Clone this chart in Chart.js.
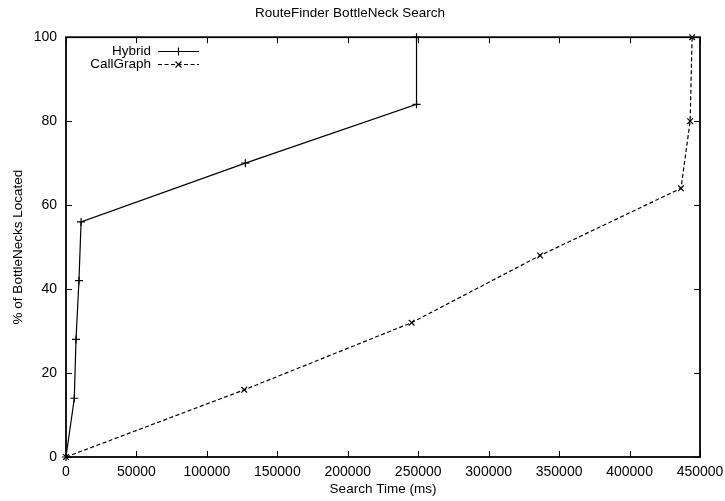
<!DOCTYPE html>
<html lang="en">
  <head>
    <meta charset="UTF-8" />
    <title>RouteFinder BottleNeck Search</title>
    <script src="https://cdn.jsdelivr.net/npm/chart.js@4.4.0/dist/chart.umd.min.js"></script>
    <style>
      html,
      body {
        margin: 0;
        padding: 0;
        background: #fff;
      }
      #chart {
        display: block;
      }
    </style>
  </head>
  <body>
    <canvas id="chart" width="725" height="501"></canvas>
    <script>
      // values
      const hybridTime = [0, 5900, 7100, 9200, 10700, 127300, 248800, 248800];
      const hybridPct = [0, 14, 28, 42, 56, 70, 84, 100];
      const callTime = [0, 126500, 245300, 336500, 436500, 443000, 444400];
      const callPct = [0, 16, 32, 48, 64, 80, 100];

      const xTicks = [0, 50000, 100000, 150000, 200000, 250000, 300000, 350000, 400000, 450000];
      const yTicks = [0, 20, 40, 60, 80, 100];

      const FONT = "'Liberation Sans', Arial, Helvetica, sans-serif";

      function toPoints(xs, ys) {
        const pts = [];
        for (let i = 0; i < xs.length; i++) {
          pts.push({ x: xs[i], y: ys[i] });
        }
        return pts;
      }

      // gnuplot style frame: border on 4 sides, ticks pointing inward, mirrored
      const framePlugin = {
        id: "frame",
        beforeDatasetsDraw(chart) {
          const { ctx, chartArea: a } = chart;
          const xs = chart.scales.x;
          const ys = chart.scales.y;
          const len = 6;
          ctx.save();
          ctx.strokeStyle = "#000";
          ctx.lineWidth = 1;
          ctx.beginPath();
          xTicks.forEach(function (v) {
            const px = Math.round(xs.getPixelForValue(v)) + 0.5;
            ctx.moveTo(px, a.bottom);
            ctx.lineTo(px, a.bottom - len);
            ctx.moveTo(px, a.top);
            ctx.lineTo(px, a.top + len);
          });
          yTicks.forEach(function (v) {
            const py = Math.round(ys.getPixelForValue(v)) + 0.5;
            ctx.moveTo(a.left, py);
            ctx.lineTo(a.left + len, py);
            ctx.moveTo(a.right, py);
            ctx.lineTo(a.right - len, py);
          });
          ctx.stroke();
          ctx.lineWidth = 1.8;
          ctx.strokeRect(a.left, a.top, a.right - a.left, a.bottom - a.top);
          ctx.restore();
        },
        afterDatasetsDraw(chart) {
          // key in the upper left corner, like gnuplot draws it
          const { ctx } = chart;
          const textRight = 151;
          const lineL = 158;
          const lineR = 199;
          const rows = [51, 64];
          ctx.save();
          ctx.font = "13.5px " + FONT;
          ctx.textAlign = "right";
          ctx.textBaseline = "middle";
          chart.data.datasets.forEach(function (ds, i) {
            const y = rows[i] + 0.5;
            ctx.fillStyle = "#000";
            ctx.fillText(ds.label, textRight, rows[i]);
            ctx.strokeStyle = ds.borderColor;
            ctx.lineWidth = ds.borderWidth;
            ctx.setLineDash(ds.borderDash || []);
            ctx.beginPath();
            ctx.moveTo(lineL, y);
            ctx.lineTo(lineR, y);
            ctx.stroke();
            ctx.setLineDash([]);
            const cx = (lineL + lineR) / 2;
            const r = ds.pointRadius;
            ctx.beginPath();
            if (ds.pointStyle === "cross") {
              ctx.moveTo(cx - r, y);
              ctx.lineTo(cx + r, y);
              ctx.moveTo(cx, y - r);
              ctx.lineTo(cx, y + r);
            } else {
              const d = r * 0.75;
              ctx.moveTo(cx - d, y - d);
              ctx.lineTo(cx + d, y + d);
              ctx.moveTo(cx - d, y + d);
              ctx.lineTo(cx + d, y - d);
            }
            ctx.stroke();
          });
          ctx.restore();
        },
      };

      const ctx = document.querySelector("#chart").getContext("2d");
      const myChart = new Chart(ctx, {
        type: "line",
        data: {
          datasets: [
            {
              label: "Hybrid",
              data: toPoints(hybridTime, hybridPct),
              borderColor: "#000",
              backgroundColor: "#000",
              borderWidth: 1.2,
              pointStyle: "cross",
              pointRadius: 4,
              pointBorderWidth: 1.2,
              tension: 0,
              fill: false,
              clip: false,
            },
            {
              label: "CallGraph",
              data: toPoints(callTime, callPct),
              borderColor: "#000",
              backgroundColor: "#000",
              borderWidth: 1.2,
              borderDash: [4, 2.5],
              pointStyle: "crossRot",
              pointRadius: 4,
              pointBorderWidth: 1.2,
              tension: 0,
              fill: false,
              clip: false,
            },
          ],
        },
        options: {
          responsive: false,
          animation: false,
          layout: {
            padding: { left: 0, right: 25, top: 0, bottom: 0 },
          },
          plugins: {
            legend: { display: false },
            tooltip: { enabled: false },
            title: {
              display: true,
              text: "RouteFinder BottleNeck Search",
              color: "#000",
              font: { family: FONT, size: 13.5, weight: "normal" },
              padding: { top: 5, bottom: 16 },
            },
          },
          scales: {
            x: {
              type: "linear",
              min: 0,
              max: 450000,
              afterFit(scale) {
                scale.height = 44;
                // let the last label hang into the right padding
                scale.paddingRight = 0;
                scale.paddingLeft = 0;
              },
              afterBuildTicks(scale) {
                scale.ticks = xTicks.map(function (v) {
                  return { value: v };
                });
              },
              grid: { display: false, drawTicks: false },
              border: { display: false },
              ticks: {
                color: "#000",
                padding: 7,
                maxRotation: 0,
                autoSkip: false,
                font: { family: FONT, size: 14 },
                callback: function (v) {
                  return String(v);
                },
              },
              title: {
                display: true,
                text: "Search Time (ms)",
                color: "#000",
                font: { family: FONT, size: 13.5 },
                padding: { top: 0, bottom: 4 },
              },
            },
            y: {
              type: "linear",
              min: 0,
              max: 100,
              afterFit(scale) {
                scale.width = 66;
              },
              afterBuildTicks(scale) {
                scale.ticks = yTicks.map(function (v) {
                  return { value: v };
                });
              },
              grid: { display: false, drawTicks: false },
              border: { display: false },
              ticks: {
                color: "#000",
                padding: 9,
                font: { family: FONT, size: 14 },
              },
              title: {
                display: true,
                text: "% of BottleNecks Located",
                color: "#000",
                font: { family: FONT, size: 13.5 },
                padding: { top: 10, bottom: 0 },
              },
            },
          },
        },
        plugins: [framePlugin],
      });
    </script>
  </body>
</html>
